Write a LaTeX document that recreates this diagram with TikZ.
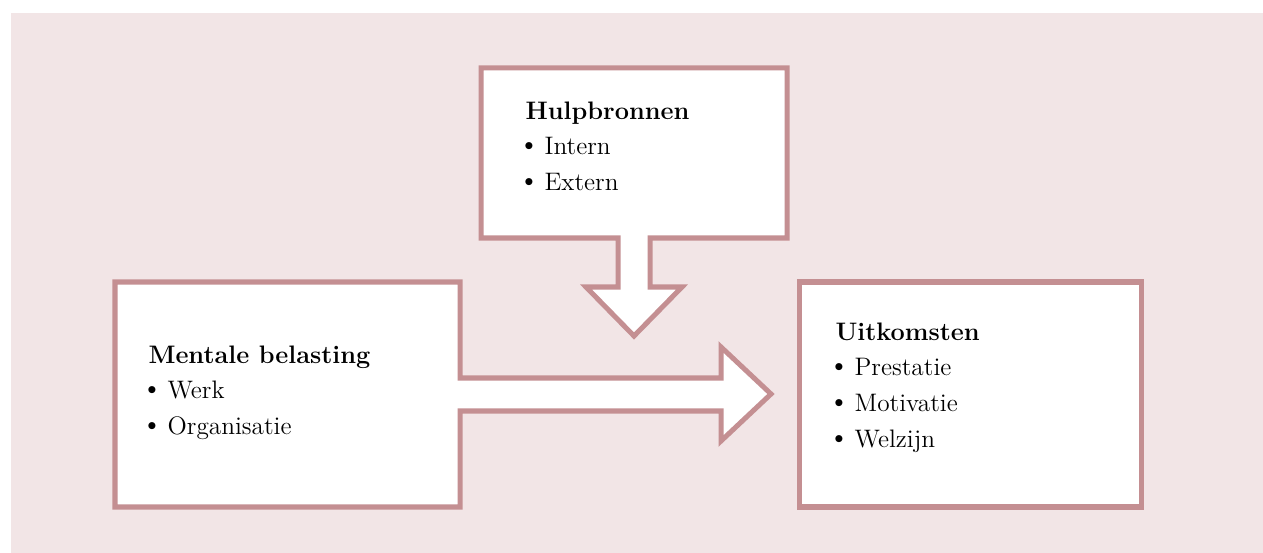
\documentclass[tikz,border=0pt]{standalone}
\usepackage{tikz}

\definecolor{rosebg}{RGB}{242,229,230}
\definecolor{roseline}{RGB}{196,143,146}
\newcommand{\punt}{\kern-4.5pt{\fontsize{18}{20}\selectfont\textbullet}\kern2.4pt}

\begin{document}
\begin{tikzpicture}[x=0.02cm, y=-0.02cm, line width=2.85pt]
  \tikzset{
    blockshape/.style={draw=roseline, fill=white},
    boxtext/.style={anchor=north west, inner sep=0pt, align=left,
      font=\fontsize{14.4}{20.4}\selectfont}
  }
  % Canvas and background
  \useasboundingbox (0,0) rectangle (1263,553);
  \fill[rosebg] (11,13) rectangle (1263,553);

  % Resources box with arrow pointing down
  \draw[blockshape] (618,238) -- (481,238) -- (481,68) -- (787,68) -- (787,238)
    -- (650,238) -- (650,287) -- (682,287) -- (634,336) -- (586,287)
    -- (618,287) -- cycle;

  % Load box with arrow pointing right
  \draw[blockshape] (460,378) -- (460,282) -- (115,282) -- (115,507) -- (460,507)
    -- (460,411) -- (721,411) -- (721,441) -- (771,394) -- (721,347)
    -- (721,378) -- cycle;

  % Outcomes box
  \draw[blockshape] (799,282) rectangle (1141,507);

  % Labels
  \node[boxtext] (hulp) at (523,99)
    {\textbf{Hulpbronnen}\\ \punt Intern\\ \punt Extern};
  \node[boxtext] (belasting) at (146,343)
    {\textbf{Mentale belasting}\\ \punt Werk\\ \punt Organisatie};
  \node[boxtext] (uitkomst) at (833,320)
    {\textbf{Uitkomsten}\\ \punt Prestatie\\ \punt Motivatie\\ \punt Welzijn};
\end{tikzpicture}
\end{document}
